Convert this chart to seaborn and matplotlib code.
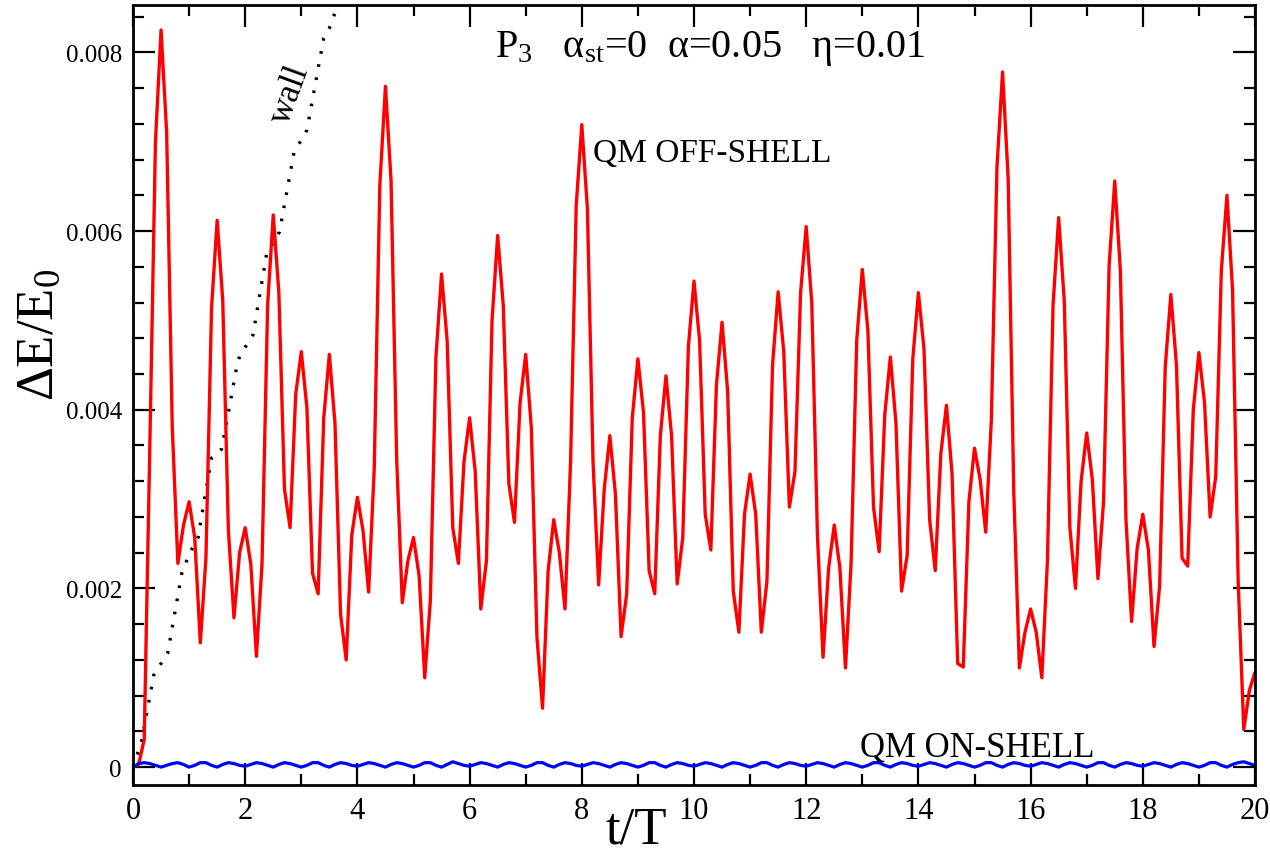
import numpy as np
import pandas as pd
import matplotlib
matplotlib.use("Agg")
import matplotlib.pyplot as plt
import seaborn as sns
from matplotlib.ticker import MultipleLocator, FuncFormatter

# ---------------- data ----------------
t_grid = np.round(np.arange(0, 20.0001, 0.1), 1)

off_shell = [
    0.0, 0.00003, 0.00031, 0.0036, 0.0070, 0.00825, 0.0071, 0.0038, 0.00228, 0.00271,
    0.00297, 0.00257, 0.00139, 0.00234, 0.00514, 0.00612, 0.00522, 0.00265, 0.00167, 0.0024,
    0.00268, 0.00227, 0.00124, 0.00228, 0.00518, 0.00618, 0.00531, 0.00311, 0.00268, 0.00417,
    0.00465, 0.00402, 0.00217, 0.00194, 0.00391, 0.00462, 0.00385, 0.00171, 0.0012, 0.0026,
    0.00302, 0.00265, 0.00196, 0.00334, 0.00652, 0.00762, 0.00656, 0.00345, 0.00184, 0.00231,
    0.00257, 0.00214, 0.0010, 0.00186, 0.00459, 0.00552, 0.00477, 0.00268, 0.00228, 0.00342,
    0.00391, 0.00331, 0.00177, 0.00231, 0.0050, 0.00595, 0.00517, 0.00317, 0.00274, 0.00408,
    0.00462, 0.0038, 0.00146, 0.00066, 0.0022, 0.00277, 0.0024, 0.00177, 0.00342, 0.00628,
    0.00719, 0.00625, 0.00342, 0.00204, 0.00311, 0.00371, 0.00305, 0.00146, 0.00194, 0.00391,
    0.00457, 0.00397, 0.0022, 0.00194, 0.00371, 0.00438, 0.00371, 0.00205, 0.00257, 0.00471,
    0.00544, 0.00477, 0.00283, 0.00243, 0.00428, 0.00498, 0.0042, 0.00197, 0.00151, 0.00283,
    0.00328, 0.00283, 0.00151, 0.00208, 0.0045, 0.00532, 0.00465, 0.00291, 0.00331, 0.00531,
    0.00605, 0.00519, 0.0026, 0.00123, 0.00223, 0.00271, 0.00223, 0.00111, 0.00228, 0.00477,
    0.00557, 0.00488, 0.00291, 0.00241, 0.00394, 0.00459, 0.00385, 0.00197, 0.00237, 0.00457,
    0.00531, 0.00468, 0.00277, 0.0022, 0.00351, 0.00405, 0.00328, 0.00116, 0.00112, 0.00297,
    0.00357, 0.00322, 0.00263, 0.00388, 0.00671, 0.00778, 0.00659, 0.00308, 0.00111, 0.00151,
    0.00177, 0.00151, 0.0010, 0.00231, 0.00517, 0.00615, 0.00522, 0.00268, 0.0020, 0.0032,
    0.00374, 0.00322, 0.00211, 0.00297, 0.00562, 0.00656, 0.00556, 0.00277, 0.00163, 0.00245,
    0.00283, 0.00243, 0.00135, 0.00203, 0.00448, 0.00529, 0.0045, 0.00234, 0.00225, 0.0040,
    0.00464, 0.00408, 0.0028, 0.00325, 0.00556, 0.0064, 0.00534, 0.00208, 0.00042, 0.00086,
    0.00106,
]

on_shell = [
    0.0, 0.00004, 0.00005, 0.00004, 0.00002, 0.0, 0.00002, 0.00004, 0.00005, 0.00003,
    0.0, 0.00002, 0.00005, 0.00005, 0.00002, 0.0, 0.00003, 0.00005, 0.00004, 0.00002,
    0.00001, 0.00003, 0.00005, 0.00004, 0.00002, 0.0, 0.00003, 0.00005, 0.00004, 0.00002,
    0.0, 0.00002, 0.00005, 0.00005, 0.00002, 0.0, 0.00003, 0.00005, 0.00004, 0.00002,
    0.00001, 0.00003, 0.00005, 0.00004, 0.00002, 0.0, 0.00003, 0.00005, 0.00004, 0.00002,
    0.0, 0.00002, 0.00005, 0.00005, 0.00002, 0.0, 0.00003, 0.00006, 0.00004, 0.00002,
    0.00001, 0.00003, 0.00005, 0.00004, 0.00002, 0.0, 0.00003, 0.00005, 0.00004, 0.00002,
    0.0, 0.00002, 0.00005, 0.00005, 0.00002, 0.0, 0.00003, 0.00005, 0.00004, 0.00002,
    0.00001, 0.00003, 0.00005, 0.00004, 0.00002, 0.0, 0.00003, 0.00005, 0.00004, 0.00002,
    0.0, 0.00002, 0.00005, 0.00005, 0.00002, 0.0, 0.00003, 0.00005, 0.00004, 0.00002,
    0.00001, 0.00003, 0.00005, 0.00004, 0.00002, 0.0, 0.00003, 0.00005, 0.00004, 0.00002,
    0.0, 0.00002, 0.00005, 0.00005, 0.00002, 0.0, 0.00003, 0.00005, 0.00004, 0.00002,
    0.00001, 0.00003, 0.00005, 0.00004, 0.00002, 0.0, 0.00003, 0.00005, 0.00004, 0.00002,
    0.0, 0.00002, 0.00005, 0.00005, 0.00002, 0.0, 0.00003, 0.00005, 0.00004, 0.00002,
    0.00001, 0.00003, 0.00005, 0.00004, 0.00002, 0.0, 0.00003, 0.00005, 0.00004, 0.00002,
    0.0, 0.00002, 0.00005, 0.00005, 0.00002, 0.0, 0.00003, 0.00005, 0.00004, 0.00002,
    0.00001, 0.00003, 0.00005, 0.00004, 0.00002, 0.0, 0.00003, 0.00005, 0.00004, 0.00002,
    0.0, 0.00002, 0.00005, 0.00005, 0.00002, 0.0, 0.00003, 0.00005, 0.00004, 0.00002,
    0.00001, 0.00003, 0.00005, 0.00004, 0.00002, 0.0, 0.00003, 0.00005, 0.00004, 0.00002,
    0.0, 0.00002, 0.00005, 0.00005, 0.00002, 0.0, 0.00003, 0.00005, 0.00006, 0.00004,
    0.00002,
]

wall_t = [0.0, 0.15, 0.37, 0.62, 0.87, 1.0, 1.16, 1.4, 1.58, 1.84, 1.9, 2.14, 2.38,
          2.61, 2.87, 3.1, 3.4, 3.5, 3.75]
wall_y = [0.0, 0.00028, 0.00103, 0.00128, 0.00217, 0.00238, 0.00257, 0.00346, 0.00356,
          0.00445, 0.0046, 0.00484, 0.00574, 0.00599, 0.00688, 0.00713, 0.00816, 0.00827,
          0.0087]

x_ticks = [0, 2, 4, 6, 8, 10, 12, 14, 16, 18, 20]
y_ticks = [0.0, 0.002, 0.004, 0.006, 0.008]

df_off = pd.DataFrame({"t": t_grid, "dE": off_shell})
df_on = pd.DataFrame({"t": t_grid, "dE": on_shell})
df_wall = pd.DataFrame({"t": wall_t, "dE": wall_y})

# ---------------- style ----------------
sns.set_theme(style="ticks")
plt.rcParams["font.family"] = ["Liberation Serif", "DejaVu Serif"]
plt.rcParams["mathtext.fontset"] = "custom"
plt.rcParams["mathtext.rm"] = "Liberation Serif"
plt.rcParams["mathtext.it"] = "Liberation Serif:italic"
for k in ["text.color", "axes.labelcolor", "xtick.color", "ytick.color", "axes.edgecolor"]:
    plt.rcParams[k] = "black"

fig = plt.figure(figsize=(12.7, 8.53), dpi=100)
W, H = 1270, 853
left, right, top, bottom = 133, 1255, 6, 786
ax = fig.add_axes([left / W, 1 - bottom / H, (right - left) / W, (bottom - top) / H])

sns.lineplot(data=df_wall, x="t", y="dE", ax=ax, color="black", lw=2.4,
             linestyle=(0, (0.8, 3.2)), sort=False, estimator=None)
sns.lineplot(data=df_off, x="t", y="dE", ax=ax, color="#ff0000", lw=2.4,
             sort=False, estimator=None)
sns.lineplot(data=df_on, x="t", y="dE", ax=ax, color="#0000ff", lw=2.3,
             sort=False, estimator=None)

ax.set_xlim(0, 20)
ax.set_ylim(-0.0002, 0.00853)
ax.set_xticks(x_ticks)
ax.set_yticks(y_ticks)
ax.xaxis.set_minor_locator(MultipleLocator(1))
ax.yaxis.set_minor_locator(MultipleLocator(0.0004))
ax.yaxis.set_major_formatter(FuncFormatter(lambda v, p: "0" if abs(v) < 1e-12 else f"{v:.3f}"))
ax.xaxis.set_major_formatter(FuncFormatter(lambda v, p: f"{int(round(v))}"))

ax.tick_params(which="both", direction="in", top=True, right=True, width=1.6, color="black")
ax.tick_params(which="major", length=16)
ax.tick_params(which="minor", length=8)
ax.tick_params(axis="x", which="major", labelsize=22, pad=8)
ax.tick_params(axis="y", which="major", labelsize=18, pad=8)
for s in ax.spines.values():
    s.set_linewidth(2.0)
    s.set_color("black")

ax.set_xlabel("")
ax.set_ylabel("")
fig.text(636 / W, 1 - 844 / H, "t/T", fontsize=38, ha="center", va="baseline")
fig.text(40 / W, 1 - 335 / H, "ΔE/E$_0$", fontsize=38, rotation=90,
         ha="center", va="center")

fig.text(495 / W, 1 - 57 / H, "P$_3$   α$_{\\mathrm{st}}$=0  α=0.05   η=0.01",
         fontsize=29, ha="left", va="baseline")
fig.text(593 / W, 1 - 162 / H, "QM OFF-SHELL", fontsize=24, ha="left", va="baseline")
fig.text(860 / W, 1 - 757 / H, "QM ON-SHELL", fontsize=25, ha="left", va="baseline")
fig.text(290 / W, 1 - 95 / H, "wall", fontsize=25, rotation=70, ha="center", va="center")

fig.savefig("out.png", dpi=100)
